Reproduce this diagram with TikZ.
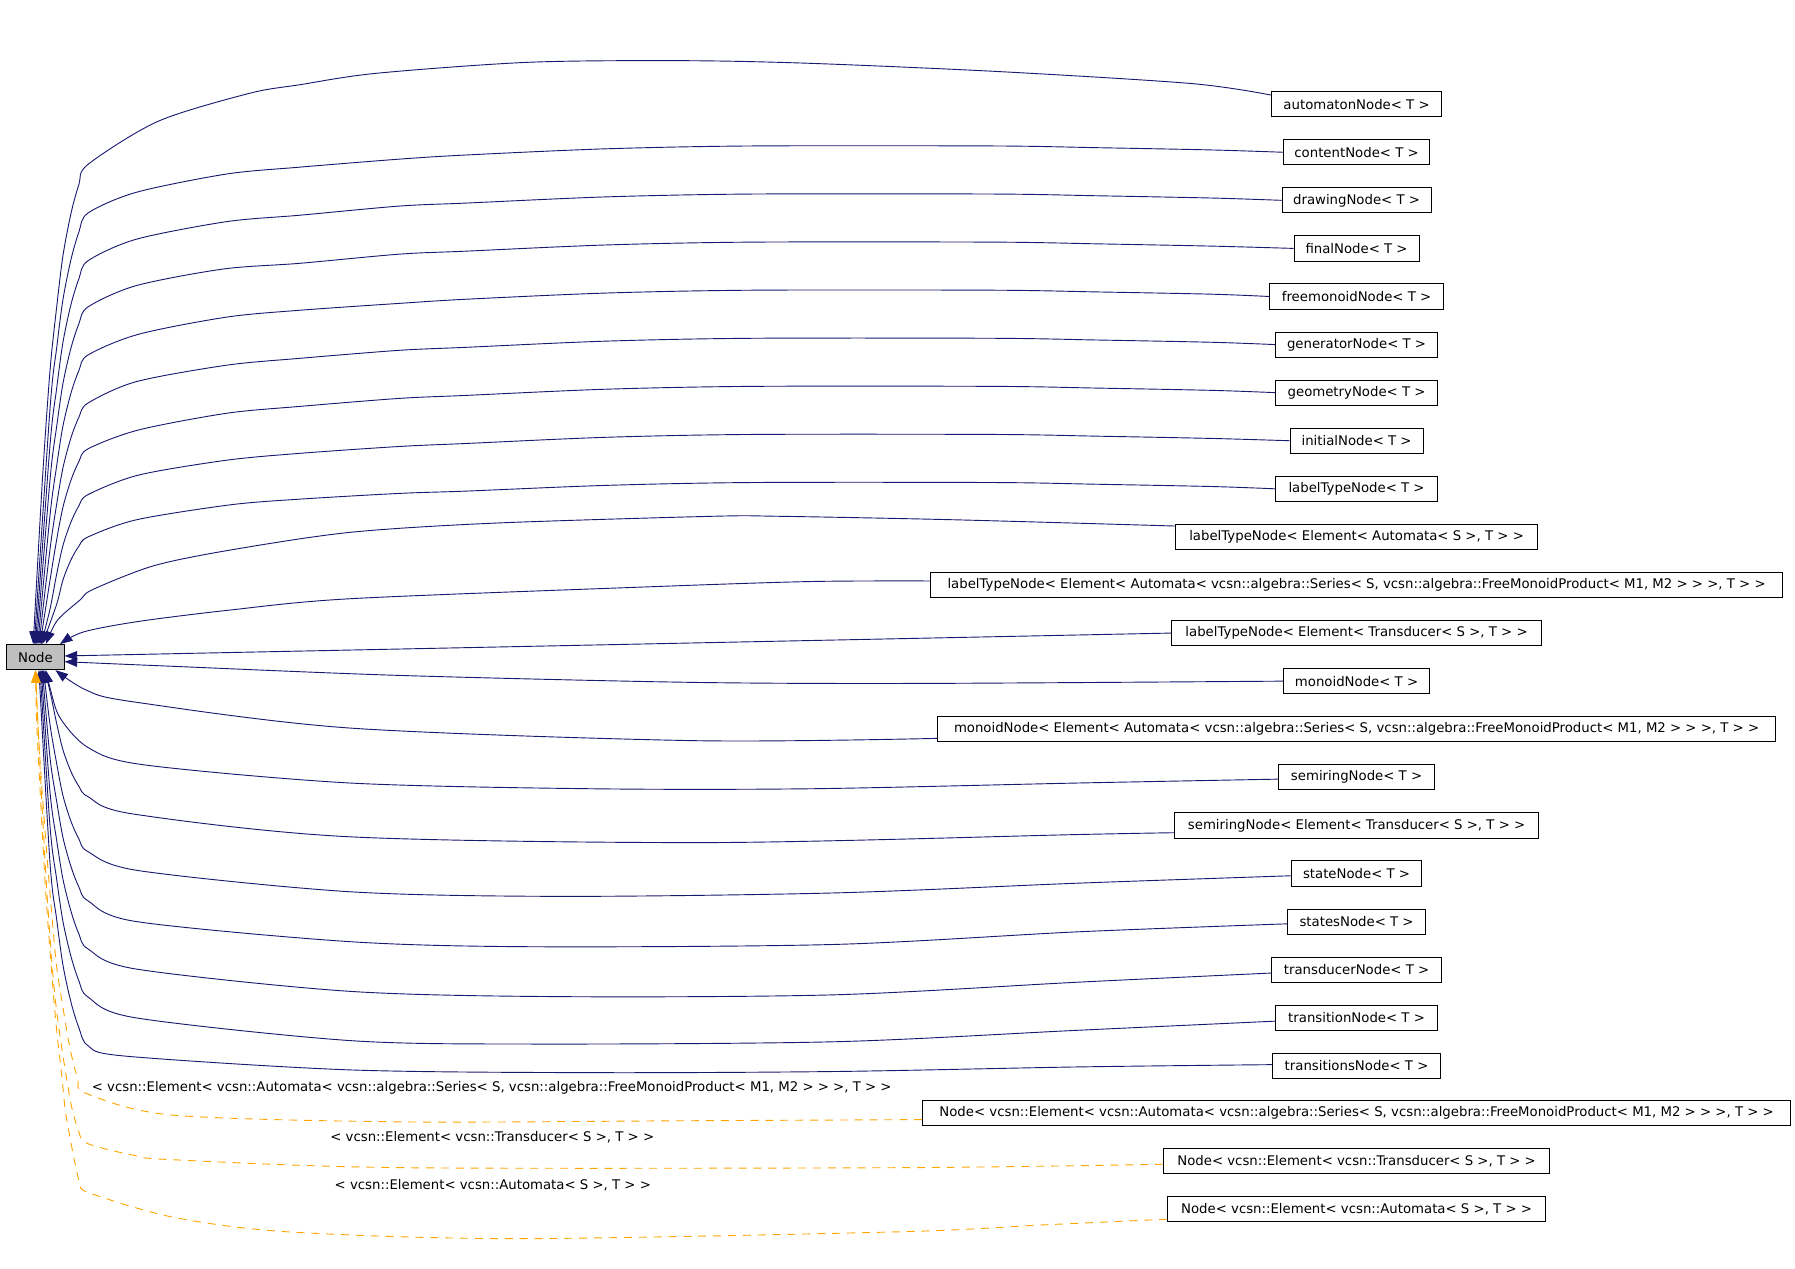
\documentclass[tikz,border=0pt]{standalone}
\usepackage{fontspec}
\setmainfont{DejaVu Sans}
\usetikzlibrary{arrows.meta}
\definecolor{navy}{HTML}{191970}
\definecolor{dorange}{HTML}{FFA500}
\definecolor{nodegray}{HTML}{BFBFBF}
\begin{document}
\begin{tikzpicture}[
  x=1pt, y=-1pt,
  block/.style={rectangle, draw, line width=0.8pt, fill=#1, minimum height=22pt,
                inner sep=0pt, font=\fontsize{11.6}{14}\selectfont},
  block/.default={white},
  lbl/.style={inner sep=0pt, font=\fontsize{11.6}{14}\selectfont},
  inh/.style={draw=navy, line width=0.8pt, -{Triangle[length=11pt,width=8pt]}},
  tmpl/.style={draw=dorange, line width=0.8pt, dash pattern=on 7pt off 6pt,
               -{Triangle[length=11pt,width=8pt]}}
]
  \useasboundingbox (0,0) rectangle (1568,1108);

  % Base class
  \node[block=nodegray, minimum width=50pt] (base) at (31,574) {Node};

  % Derived classes
  \node[block, minimum width=149pt] (auto)    at (1185,91)  {automatonNode< T >};
  \node[block, minimum width=128pt] (content) at (1185,133) {contentNode< T >};
  \node[block, minimum width=130pt] (drawing) at (1185,175) {drawingNode< T >};
  \node[block, minimum width=109pt] (final)   at (1185,217) {finalNode< T >};
  \node[block, minimum width=152pt] (freemon) at (1185,259) {freemonoidNode< T >};
  \node[block, minimum width=142pt] (gen)     at (1185,301) {generatorNode< T >};
  \node[block, minimum width=141pt] (geom)    at (1185,343) {geometryNode< T >};
  \node[block, minimum width=116pt] (init)    at (1185,385) {initialNode< T >};
  \node[block, minimum width=141pt] (ltype)   at (1185,427) {labelTypeNode< T >};
  \node[block, minimum width=316pt] (ltypeA)  at (1185,469) {labelTypeNode< Element< Automata< S >, T > >};
  \node[block, minimum width=744pt] (ltypeS)  at (1185,511) {labelTypeNode< Element< Automata< vcsn::algebra::Series< S, vcsn::algebra::FreeMonoidProduct< M1, M2 > > >, T > >};
  \node[block, minimum width=323pt] (ltypeT)  at (1185,553) {labelTypeNode< Element< Transducer< S >, T > >};
  \node[block, minimum width=128pt] (monoid)  at (1185,595) {monoidNode< T >};
  \node[block, minimum width=732pt] (monoidS) at (1185,637) {monoidNode< Element< Automata< vcsn::algebra::Series< S, vcsn::algebra::FreeMonoidProduct< M1, M2 > > >, T > >};
  \node[block, minimum width=136pt] (semi)    at (1185,679) {semiringNode< T >};
  \node[block, minimum width=318pt] (semiT)   at (1185,721) {semiringNode< Element< Transducer< S >, T > >};
  \node[block, minimum width=114pt] (state)   at (1185,763) {stateNode< T >};
  \node[block, minimum width=121pt] (states)  at (1185,805) {statesNode< T >};
  \node[block, minimum width=149pt] (trans)   at (1185,847) {transducerNode< T >};
  \node[block, minimum width=141pt] (transn)  at (1185,889) {transitionNode< T >};
  \node[block, minimum width=147pt] (transns) at (1185,931) {transitionsNode< T >};
  \node[block, minimum width=758pt] (nodeS)   at (1185,972) {Node< vcsn::Element< vcsn::Automata< vcsn::algebra::Series< S, vcsn::algebra::FreeMonoidProduct< M1, M2 > > >, T > >};
  \node[block, minimum width=337pt] (nodeT)   at (1185,1014) {Node< vcsn::Element< vcsn::Transducer< S >, T > >};
  \node[block, minimum width=330pt] (nodeA)   at (1185,1056) {Node< vcsn::Element< vcsn::Automata< S >, T > >};

  % Inheritance, upper fan
  \draw[inh] plot[smooth] coordinates {([yshift=8pt]auto.west) (1041,73) (874,62.6) (707,55.3) (596,53) (462,54.4) (329,64) (262,74) (218,81.5) (138,106) (77,143.5) (69,161) (62,186.5) (55,223.3) (49.5,268.3) (43.7,323.5) (37,420) ([xshift=-2pt]base.north)};
  \draw[inh] plot[smooth] coordinates {(content.west) (1059,131) (958,129) (868,127.5) (657,127.5) (529,130) (407,135.4) (349,139) (262,146) (198,152) (119,168) (77,186) (69,202.5) (62,226.7) (55,261.7) (49.5,304) (43.7,356.7) ([xshift=-1pt]base.north)};
  \draw[inh] plot[smooth] coordinates {(drawing.west) (1059,173) (958,171) (868,169.5) (657,169.5) (529,172) (407,177.4) (349,180) (262,188) (198,193.6) (119,209) (77,227.7) (69,243.3) (62,266) (55,299) (49.5,339.3) (43.7,388.7) (base.north)};
  \draw[inh] plot[smooth] coordinates {(final.west) (1059,215) (958,213) (868,211.5) (657,211.5) (529,214) (407,219.4) (349,222) (262,230) (195,235) (119,249.5) (77,268) (69,282.6) (62,304) (55,335) (49.5,372.6) (43.7,419) ([xshift=1pt]base.north)};
  \draw[inh] plot[smooth] coordinates {(freemon.west) (1059,257) (958,255) (868,253.5) (657,253.5) (529,256) (407,261.4) (349,265) (262,271) (198,277) (121,292) (77,310) (69,323.5) (62,343.4) (55,372) (49.5,407) (43.7,450) ([xshift=2pt]base.north)};
  \draw[inh] plot[smooth] coordinates {(gen.west) (1059,299) (958,297) (868,295.5) (657,295.5) (529,298) (407,303.4) (349,306) (262,313) (198,319) (119,333.4) (77,352) (69,364.3) (62,382.4) (55,408.6) (49.5,440.4) (43.7,479.6) ([xshift=3pt]base.north)};
  \draw[inh] plot[smooth] coordinates {(geom.west) (1059,341) (958,339) (868,337.5) (657,337.5) (529,340) (407,345.4) (349,348) (262,355) (198,361) (121,375.6) (77,392) (69,403) (62,419.4) (55,443) (49.5,471.5) (43.7,506.8) ([xshift=4pt]base.north)};
  \draw[inh] plot[smooth] coordinates {(init.west) (1059,383) (958,381) (868,379.5) (657,379.5) (529,382) (407,387.4) (349,390) (262,396) (198,402) (121,415) (77,432) (69,441.7) (62,456) (55,476.5) (49.5,501.5) (43.7,532) ([xshift=5pt]base.north)};
  \draw[inh] plot[smooth] coordinates {(ltype.west) (1059,425) (958,423) (868,421.5) (657,421.5) (529,424) (407,429) (349,431) (262,436) (201,441) (119.4,454) (77,469) (69,477) (62,489) (55,506.6) (49.5,527.8) ([xshift=6pt]base.north)};
  \draw[inh] plot[smooth] coordinates {([yshift=9.5pt]ltypeA.west) (832,454) (681,451) (622,451) (431,457) (306,465) (204,480) (135,494) (81,515) (70,524) (50,542) ([xshift=9pt]base.north)};
  \draw[inh] plot[smooth] coordinates {([yshift=3.5pt]ltypeS.west) (707,508) (556,513) (306,523) (200,533) (120,543) (73,552) ([xshift=-4pt]base.north east)};

  % Inheritance, to the side
  \draw[inh] (ltypeT.west) -- ([yshift=1pt]base.east);
  \draw[inh] plot[smooth] coordinates {(monoid.west) (800,597) (600,596) (349,590) (150,582) ([yshift=-4pt]base.east)};

  % Inheritance, lower fan
  \draw[inh] plot[smooth] coordinates {([yshift=-8pt]monoidS.west) (607,647) (306,636) (116,613) (75.7,603) ([xshift=-8pt]base.south east)};
  \draw[inh] plot[smooth] coordinates {([yshift=-1.6pt]semi.west) (941,684) (708,689) (517,689) (306,684) (125,668) (77,653) (52.4,627) (44,602) ([xshift=9pt]base.south)};
  \draw[inh] plot[smooth] coordinates {([yshift=-6.4pt]semiT.west) (941,729) (623,736) (306,731) (116,711) (77,696) (69,687) (62,674) (55,655) (49.5,632) (43.7,604) ([xshift=8pt]base.south)};
  \draw[inh] plot[smooth] coordinates {([yshift=-2pt]state.west) (941,771.5) (729,780) (491,783) (306,779) (121,760.5) (77,744) (69,733) (62,717.5) (55,695) (49.5,667) (43.7,633) ([xshift=7pt]base.south)};
  \draw[inh] plot[smooth] coordinates {([yshift=-2pt]states.west) (941,814) (729,825) (465,827) (306,822.6) (119,805) (77,787) (69,775) (62,757) (55,731.6) (49.5,700) (43.7,662) ([xshift=6pt]base.south)};
  \draw[inh] plot[smooth] coordinates {([yshift=-3pt]trans.west) (941,858) (729,869) (491,870.6) (306,866) (119,846.5) (77,829) (69,816) (62,796) (55,768) (49.5,734) (43.7,692) ([xshift=5pt]base.south)};
  \draw[inh] plot[smooth] coordinates {([yshift=-3pt]transn.west) (941,900) (729,910) (465,912) (306,909) (118,889) (77,871) (69,857) (62,835.5) (55,805) (49.5,768) (43.7,722) ([xshift=4pt]base.south)};
  \draw[inh] plot[smooth] coordinates {([yshift=1pt]transns.west) (941,932) (729,936) (517,937) (306,934.6) (109,922.5) (77,913.5) (69,898) (62,875.5) (55,843) (49.5,803) (43.7,754) ([xshift=3pt]base.south)};

  % Template instances
  \draw[tmpl] plot[smooth] coordinates {([yshift=-6pt]nodeS.west) (600,979) (351,980) (150,974) (75,955) (68,943) (61,915) (55,880) (49,840) (42,760) (36,680) (33,630) (base.south)};
  \draw[tmpl] plot[smooth] coordinates {([yshift=-3pt]nodeT.west) (786,1020) (351,1020) (150,1013) (116,1009) (75.7,998.6) (68.4,987) (62.6,967) (58,941) (52,902) (47,860) (41,780) (36,690) (33,630) (base.south)};
  \draw[tmpl] plot[smooth] coordinates {([yshift=-9pt]nodeA.west) (911,1070) (786,1076) (451,1082) (251,1076) (150,1063) (78,1042) (70,1034) (65.5,1016) (61,993) (57,970) (54,940) (49.5,900) (46,860) (40,780) (35,690) (32,630) (base.south)};

  \node[lbl] (lS) at (429.5,950) {< vcsn::Element< vcsn::Automata< vcsn::algebra::Series< S, vcsn::algebra::FreeMonoidProduct< M1, M2 > > >, T > >};
  \node[lbl] (lT) at (430,993) {< vcsn::Element< vcsn::Transducer< S >, T > >};
  \node[lbl] (lA) at (430.5,1035) {< vcsn::Element< vcsn::Automata< S >, T > >};
\end{tikzpicture}
\end{document}
